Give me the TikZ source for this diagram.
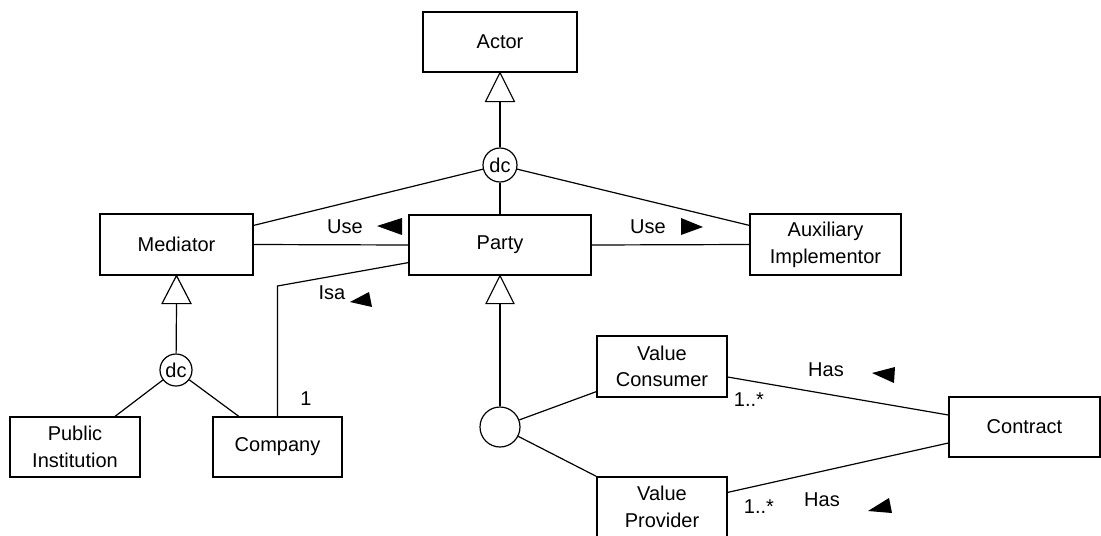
\documentclass[tikz,border=0pt]{standalone}
\usepackage{fontspec}
\setmainfont{Liberation Sans}
\begin{document}
\begin{tikzpicture}[x=0.75pt,y=-0.75pt, line width=0.9pt,
  every node/.style={font=\fontsize{15pt}{20pt}\selectfont},
  box/.style={draw, rectangle, inner sep=0pt, align=center},
  dcnode/.style={draw, circle, inner sep=0pt},
  lbl/.style={inner sep=0pt}]
\useasboundingbox (0,0) rectangle (1101,536);

% classes
\node[box, minimum width=115.5pt, minimum height=45pt] (actor) at (500,42) {Actor};
\node[box, minimum width=114.75pt, minimum height=45.75pt] (mediator) at (176.5,244.5) {Mediator};
\node[box, minimum width=136.5pt, minimum height=45pt] (party) at (500,245) {Party};
\node[box, minimum width=113.25pt, minimum height=45.75pt] (aux) at (825.5,244.5) {Auxiliary\\Implementor};
\node[box, minimum width=97.5pt, minimum height=45pt] (public) at (75,447) {Public\\Institution};
\node[box, minimum width=96.75pt, minimum height=45pt] (company) at (277.5,447) {Company};
\node[box, minimum width=97.5pt, minimum height=45.75pt] (vc) at (662,366.5) {Value\\Consumer};
\node[box, minimum width=97.5pt, minimum height=45pt] (vp) at (662,507) {Value\\Provider};
\node[box, minimum width=113.25pt, minimum height=45pt] (contract) at (1024.5,427) {Contract};

% constraint circles
\node[dcnode, minimum size=25.5pt] (dc1) at (500,165) {dc};
\node[dcnode, minimum size=24pt] (dc2) at (176,370) {dc};
\node[dcnode, minimum size=30pt] (cov) at (500,427) {};

% generalization triangles
\draw (actor.south) -- ++(-14.5,29) -- ++(29,0) -- cycle;
\coordinate (ga) at ([yshift=-21.75pt]actor.south);
\draw (mediator.south) -- ++(-14.5,28) -- ++(29,0) -- cycle;
\coordinate (gm) at ([yshift=-21pt]mediator.south);
\draw (party.south) -- ++(-14,28) -- ++(28,0) -- cycle;
\coordinate (gp) at ([yshift=-21pt]party.south);

% connectors
\draw (ga) -- (dc1);
\draw (dc1) -- (party);
\draw (dc1) -- ([yshift=-9pt]mediator.north east);
\draw (dc1) -- ([yshift=-9pt]aux.north west);
\draw (mediator.east) -- (party.west);
\draw (party.east) -- (aux.west);
\draw (gm) -- (dc2);
\draw (dc2) -- ([xshift=30pt]public.north);
\draw (dc2) -- ([xshift=-29pt]company.north);
\coordinate (isabend) at (277.5,286);
\draw (company.north) -- (isabend) -- ([yshift=9.75pt]party.south west);
\draw (gp) -- (cov);
\draw (cov) -- ([yshift=4.5pt]vc.south west);
\draw (cov) -- (vp.north west);
\draw ([yshift=-7.875pt]vc.east) -- ([yshift=9pt]contract.west);
\draw ([yshift=-12pt]vp.north east) -- ([yshift=-12pt]contract.west);

% labels
\node[lbl] (use1) at (345,227) {Use};
\fill (377,226) -- (402,218) -- (402,235) -- cycle;
\node[lbl] (use2) at (648,227) {Use};
\fill (681,218) -- (703,227) -- (681,235) -- cycle;
\node[lbl] (isa) at (332,293) {Isa};
\fill (350,302) -- (369,292) -- (372,307) -- cycle;
\node[lbl] (one) at (306,399) {1};
\node[lbl] (has1) at (826,370) {Has};
\fill (872,373) -- (895,367) -- (894,383) -- cycle;
\node[lbl] (m1) at (749,400) {1..*};
\node[lbl] (has2) at (822,500) {Has};
\fill (868,511) -- (889,498) -- (892,513) -- cycle;
\node[lbl] (m2) at (759,507) {1..*};
\end{tikzpicture}
\end{document}
